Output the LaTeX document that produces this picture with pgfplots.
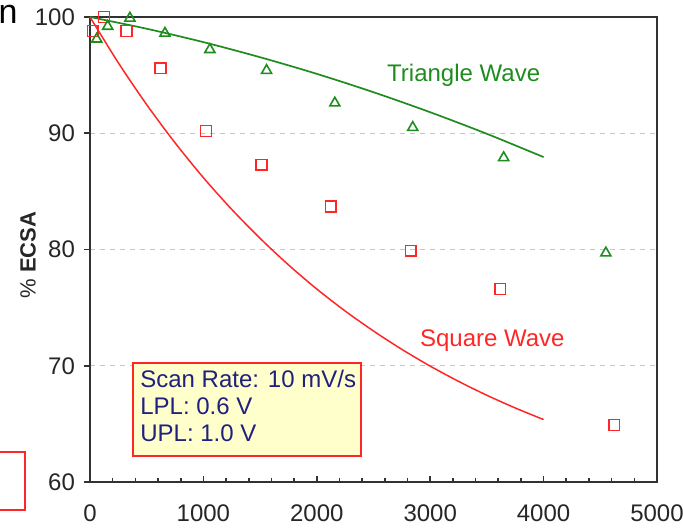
\documentclass[border=0pt]{standalone}
\usepackage{fontspec}
\setmainfont{Liberation Sans}
\usepackage{pgfplots}
\pgfplotsset{compat=1.18}
\usepackage{pgfplotstable}
\definecolor{sqred}{RGB}{255,38,38}
\definecolor{trigreen}{RGB}{30,140,30}
\definecolor{boxblue}{RGB}{32,32,128}
\definecolor{boxfill}{RGB}{255,255,204}
\definecolor{axgray}{RGB}{50,50,50}

\pgfplotstableread{
x y
59 98.1
156 99.2
352 99.9
661 98.6
1057 97.2
1557 95.4
2159 92.6
2846 90.5
3648 87.9
4549 79.7
}\triangledata

\pgfplotstableread{
x y
24 98.8
123 100.0
323 98.8
623 95.6
1022 90.2
1513 87.3
2123 83.7
2828 79.9
3618 76.6
4623 64.9
}\squaredata

\pgfplotstableread{
x y
0 100
500 98.99
1000 97.84
1500 96.54
2000 95.11
2500 93.53
3000 91.81
3500 89.95
4000 87.95
}\trianglefit

\pgfplotstableread{
x y
0 100
250 96.06
500 92.46
750 89.18
1000 86.18
1250 83.45
1500 80.96
1750 78.68
2000 76.60
2250 74.71
2500 72.99
2750 71.41
3000 69.97
3250 68.66
3500 67.46
3750 66.37
4000 65.37
}\squarefit

\begin{document}
\begin{tikzpicture}
\useasboundingbox (-45pt,-22.5pt) rectangle (296.5pt,241pt);
\begin{axis}[
  anchor=south west, at={(0pt,0pt)},
  scale only axis,
  width=283.5pt, height=232.5pt,
  xmin=0, xmax=5000, ymin=60, ymax=100,
  xtick={0,1000,...,5000},
  minor x tick num=4,
  ytick={60,70,80,90,100},
  tick pos=left,
  tick align=inside,
  major tick length=3.2pt,
  minor tick length=1.8pt,
  ytick style={xshift=-3.2pt, line width=0.8pt, color=axgray},
  xtick style={line width=0.8pt, color=axgray},
  axis line style={line width=1pt, color=axgray},
  ymajorgrids,
  grid style={dashed, dash pattern=on 2.5pt off 2.5pt, gray!45, line width=0.6pt},
  scaled x ticks=false,
  /pgf/number format/set thousands separator={},
  /pgf/number format/assume math mode=true,
  tick label style={font=\fontsize{12}{14}\selectfont, color=black!85},
  yticklabel style={xshift=-4pt},
  xticklabel style={yshift=-8pt},
  ylabel={\% \textbf{ECSA}},
  ylabel style={at={(axis description cs:-0.1093,0.488)}, anchor=center, font=\fontsize{11}{13}\selectfont, color=black!85},
  clip=false,
]
\addplot[sqred, line width=0.75pt, smooth] table[x=x,y=y] {\squarefit};
\addplot[trigreen, line width=0.85pt, smooth] table[x=x,y=y] {\trianglefit};
\addplot[only marks, mark=square, mark size=2.7pt, mark options={sqred, line width=0.75pt}] table[x=x,y=y] {\squaredata};
\addplot[only marks, mark=triangle, mark size=2.9pt, mark options={trigreen, line width=0.8pt}] table[x=x,y=y] {\triangledata};

\node[anchor=west, text=trigreen, font=\fontsize{12}{14}\selectfont, inner sep=0pt] at (axis cs:2617,95.0) {Triangle Wave};
\node[anchor=west, text=sqred, font=\fontsize{12}{14}\selectfont, inner sep=0pt] at (axis cs:2907,72.2) {Square Wave};

\draw[sqred, line width=0.8pt, fill=boxfill] (axis cs:379,70.24) rectangle (axis cs:2388,62.24);
\node[anchor=north west, inner sep=0pt, xshift=3.5pt, yshift=-3.5pt, text=boxblue, align=left, font=\fontsize{12}{13.5}\selectfont] at (axis cs:379,70.24) {Scan Rate: 10 mV/s\\LPL: 0.6 V\\UPL: 1.0 V};
\end{axis}
\node[anchor=base east, inner sep=0pt, font=\fontsize{17}{20}\selectfont] at (-36pt,229.5pt) {n};
\draw[sqred, line width=0.8pt] (-50pt,15pt) -- (-32.5pt,15pt) -- (-32.5pt,-14pt) -- (-50pt,-14pt);
\end{tikzpicture}
\end{document}
